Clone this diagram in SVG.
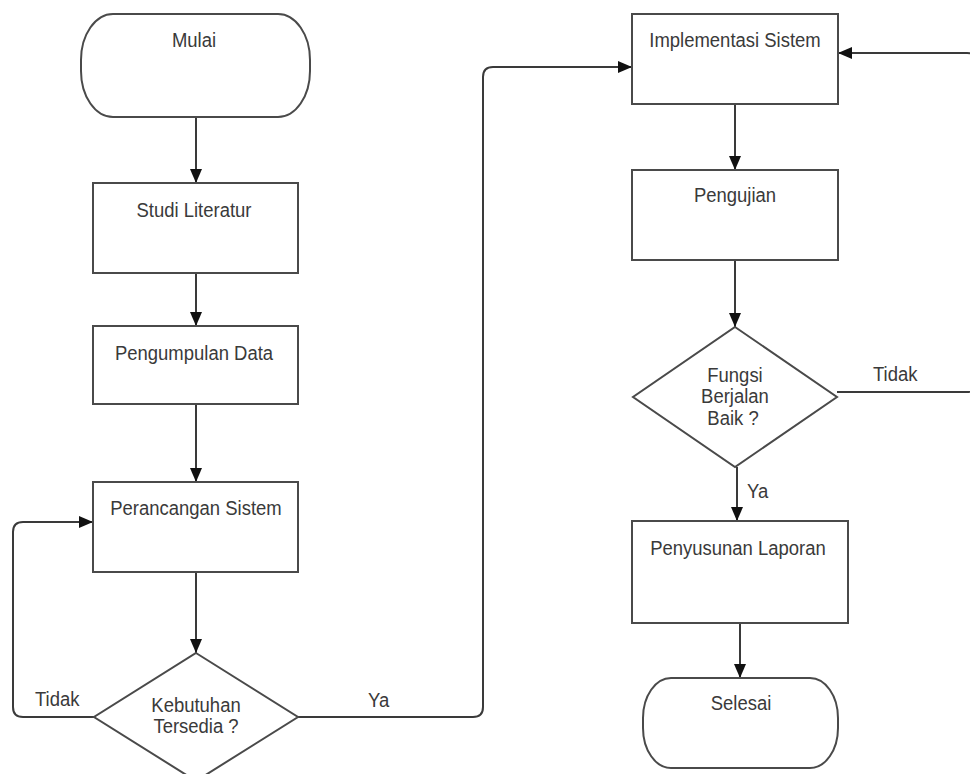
<svg xmlns="http://www.w3.org/2000/svg" width="970" height="774" viewBox="0 0 970 774">
<style>
.shape{fill:#fff;stroke:#4a4a4a;stroke-width:2}
.conn{fill:none;stroke:#3a3a3a;stroke-width:2}
text{font-family:"Liberation Sans",Arial,sans-serif;font-size:21px;fill:#3a3a3a;text-anchor:middle}
.lbl{text-anchor:start}
</style>
<defs>
<marker id="arr" viewBox="0 0 14 12" refX="14" refY="6" markerWidth="14" markerHeight="12" markerUnits="userSpaceOnUse" orient="auto">
<path d="M0,0 L14,6 L0,12 z" fill="#111"/>
</marker>
</defs>
<rect width="970" height="774" fill="#fff"/>
<g id="connectors">
<path class="conn" d="M196,117 V183" marker-end="url(#arr)"/>
<path class="conn" d="M196,273 V326" marker-end="url(#arr)"/>
<path class="conn" d="M196,404 V482" marker-end="url(#arr)"/>
<path class="conn" d="M196,572 V653" marker-end="url(#arr)"/>
<path class="conn" d="M94,717 H23 Q13,717 13,707 V532 Q13,522 23,522 H93" marker-end="url(#arr)"/>
<path class="conn" d="M298,717 H473 Q483,717 483,707 V77 Q483,67 493,67 H632" marker-end="url(#arr)"/>
<path class="conn" d="M735,104 V170" marker-end="url(#arr)"/>
<path class="conn" d="M735,260 V327" marker-end="url(#arr)"/>
<path class="conn" d="M737,467 V521" marker-end="url(#arr)"/>
<path class="conn" d="M740,623 V678" marker-end="url(#arr)"/>
<path class="conn" d="M837,392 H967 Q977,392 977,382 V63 Q977,53 967,53 H838" marker-end="url(#arr)"/>
<text class="lbl" transform="translate(35,706) scale(0.88,1)">Tidak</text>
<text class="lbl" transform="translate(368,707) scale(0.88,1)">Ya</text>
<text class="lbl" transform="translate(873,381) scale(0.88,1)">Tidak</text>
<text class="lbl" transform="translate(747,498) scale(0.88,1)">Ya</text>
</g>
<g id="mulai">
<rect class="shape" x="81" y="14" width="229" height="103" rx="32" ry="46"/>
<text transform="translate(194,47) scale(0.88,1)">Mulai</text>
</g>
<g id="studi">
<rect class="shape" x="93" y="183" width="205" height="90"/>
<text transform="translate(194,217) scale(0.88,1)">Studi Literatur</text>
</g>
<g id="pengumpulan">
<rect class="shape" x="93" y="326" width="205" height="78"/>
<text transform="translate(194,360) scale(0.88,1)">Pengumpulan Data</text>
</g>
<g id="perancangan">
<rect class="shape" x="93" y="482" width="205" height="90"/>
<text transform="translate(196,515) scale(0.88,1)">Perancangan Sistem</text>
</g>
<g id="kebutuhan">
<polygon class="shape" points="196,653 298,717 196,781 94,717"/>
<text transform="translate(196,712) scale(0.88,1)">Kebutuhan</text>
<text transform="translate(196,733) scale(0.88,1)">Tersedia ?</text>
</g>
<g id="implementasi">
<rect class="shape" x="632" y="14" width="206" height="90"/>
<text transform="translate(735,47) scale(0.88,1)">Implementasi Sistem</text>
</g>
<g id="pengujian">
<rect class="shape" x="632" y="170" width="206" height="90"/>
<text transform="translate(735,202) scale(0.88,1)">Pengujian</text>
</g>
<g id="fungsi">
<polygon class="shape" points="735,327 837,397 735,467 633,397"/>
<text transform="translate(735,382) scale(0.88,1)">Fungsi</text>
<text transform="translate(735,403) scale(0.88,1)">Berjalan</text>
<text transform="translate(733,425) scale(0.88,1)">Baik ?</text>
</g>
<g id="penyusunan">
<rect class="shape" x="632" y="521" width="216" height="102"/>
<text transform="translate(738,555) scale(0.88,1)">Penyusunan Laporan</text>
</g>
<g id="selesai">
<rect class="shape" x="643" y="678" width="195" height="90" rx="28" ry="40"/>
<text transform="translate(741,710) scale(0.88,1)">Selesai</text>
</g>
</svg>
